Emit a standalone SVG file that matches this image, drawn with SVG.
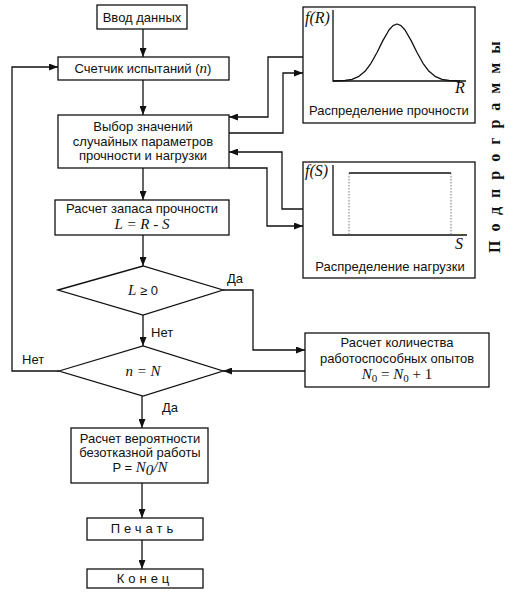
<svg xmlns="http://www.w3.org/2000/svg" width="519" height="595" viewBox="0 0 519 595">
<style>
.box{fill:#fff;stroke:#111;stroke-width:1.3}
.ln{fill:none;stroke:#111;stroke-width:1.3}
.t{font-family:"Liberation Sans",Arial,sans-serif;font-size:13px;fill:#111;text-anchor:middle}
.lab{font-family:"Liberation Sans",Arial,sans-serif;font-size:13px;fill:#111}
.m{font-family:"Liberation Serif","Times New Roman",serif;font-style:italic;font-size:15px}
.r{font-family:"Liberation Serif","Times New Roman",serif;font-style:normal;font-size:15px}
.f{font-family:"Liberation Serif","Times New Roman",serif;font-style:italic;font-size:16px;fill:#111}
</style>
<defs>
<marker id="ar" markerWidth="9" markerHeight="7" refX="9" refY="3.5" orient="auto" markerUnits="userSpaceOnUse">
<path d="M0,0 L9,3.5 L0,7 Z" fill="#111"/>
</marker>
</defs>
<rect width="519" height="595" fill="#fff"/>

<g id="connectors">
<line class="ln" x1="143" y1="29" x2="143" y2="57" marker-end="url(#ar)"/>
<line class="ln" x1="143" y1="80" x2="143" y2="115" marker-end="url(#ar)"/>
<line class="ln" x1="143" y1="168" x2="143" y2="200" marker-end="url(#ar)"/>
<line class="ln" x1="143" y1="235" x2="143" y2="266" marker-end="url(#ar)"/>
<line class="ln" x1="143" y1="315" x2="143" y2="346" marker-end="url(#ar)"/>
<line class="ln" x1="142" y1="396" x2="142" y2="428" marker-end="url(#ar)"/>
<line class="ln" x1="142" y1="483" x2="142" y2="518" marker-end="url(#ar)"/>
<line class="ln" x1="142" y1="540" x2="142" y2="569" marker-end="url(#ar)"/>
<polyline class="ln" points="59,371 12,371 12,67 58,67" marker-end="url(#ar)"/>
<polyline class="ln" points="303,57 268,57 268,117 229,117" marker-end="url(#ar)"/>
<polyline class="ln" points="229,133 283,133 283,73 303,73" marker-end="url(#ar)"/>
<polyline class="ln" points="303,209 282,209 282,152 229,152" marker-end="url(#ar)"/>
<polyline class="ln" points="229,168 267,168 267,226 303,226" marker-end="url(#ar)"/>
<polyline class="ln" points="223,290 253,290 253,350 305,350" marker-end="url(#ar)"/>
<line class="ln" x1="305" y1="371" x2="223" y2="371" marker-end="url(#ar)"/>
<text class="lab" x="227" y="283">Да</text>
<text class="lab" x="151" y="337">Нет</text>
<text class="lab" x="22" y="364">Нет</text>
<text class="lab" x="162" y="412">Да</text>
</g>

<g id="input">
<rect class="box" x="97" y="5" width="90" height="24"/>
<text class="t" x="142" y="22">Ввод данных</text>
</g>
<g id="counter">
<rect class="box" x="58" y="57" width="171" height="23"/>
<text class="t" x="143" y="73">Счетчик испытаний (<tspan class="m" font-size="14">n</tspan>)</text>
</g>
<g id="select">
<rect class="box" x="58" y="115" width="171" height="53"/>
<text class="t" x="143" y="131">Выбор значений</text>
<text class="t" x="143" y="146">случайных параметров</text>
<text class="t" x="143" y="160">прочности и нагрузки</text>
</g>
<g id="margin">
<rect class="box" x="55" y="200" width="174" height="35"/>
<text class="t" x="142" y="213">Расчет запаса прочности</text>
<text class="t m" x="142" y="229">L = R - S</text>
</g>
<g id="check">
<polygon class="box" points="58,290 143,266 223,290 143,315"/>
<text class="t" x="143" y="295" font-size="14"><tspan class="m">L</tspan> ≥ 0</text>
</g>
<g id="loopcheck">
<polygon class="box" points="59,371 143,346 223,371 143,396"/>
<text class="t m" x="143" y="376">n = N</text>
</g>
<g id="count">
<rect class="box" x="305" y="333" width="184" height="54"/>
<text class="t" x="397" y="347">Расчет количества</text>
<text class="t" x="397" y="363">работоспособных опытов</text>
<text class="t r" x="397" y="379"><tspan class="m">N</tspan><tspan font-size="11" dy="3">0</tspan><tspan dy="-3"> = </tspan><tspan class="m">N</tspan><tspan font-size="11" dy="3">0</tspan><tspan dy="-3"> + 1</tspan></text>
</g>
<g id="prob">
<rect class="box" x="71" y="428" width="137" height="55"/>
<text class="t" x="140" y="443">Расчет вероятности</text>
<text class="t" x="140" y="457">безотказной работы</text>
<text class="t" x="140" y="472">P = <tspan class="m">N</tspan><tspan class="m" font-size="11" dy="3">0</tspan><tspan class="m" dy="-3">/N</tspan></text>
</g>
<g id="print">
<rect class="box" x="87" y="518" width="116" height="22"/>
<text class="t" x="144" y="533" letter-spacing="4">Печать</text>
</g>
<g id="end">
<rect class="box" x="87" y="569" width="116" height="19"/>
<text class="t" x="145" y="583" letter-spacing="4">Конец</text>
</g>

<g id="strength-dist">
<rect class="box" x="303" y="7" width="172" height="116"/>
<text class="f" x="305" y="23">f(R)</text>
<polyline class="ln" points="333,10 333,81 466,81"/>
<polyline class="ln" stroke-linejoin="round" points="333,81 345,80.5 352,79.3 359,76.3 365,71.3 371,63.3 377,52.5 383,40.4 389,30 393,25.6 397,24 401,25.6 405,30 411,40.4 417,52.5 423,63.3 429,71.3 435,76.3 442,79.3 449,80.5 460,81"/>
<text class="f" x="455" y="93">R</text>
<text class="t" x="389" y="115">Распределение прочности</text>
</g>
<g id="load-dist">
<rect class="box" x="303" y="162" width="172" height="116"/>
<text class="f" x="305" y="176">f(S)</text>
<polyline class="ln" points="333,165 333,235 467,235"/>
<line class="ln" x1="349" y1="173" x2="451" y2="173"/>
<line x1="349" y1="173" x2="349" y2="235" stroke="#555" stroke-width="0.8" stroke-dasharray="1.5,1.5"/>
<line x1="451" y1="173" x2="451" y2="235" stroke="#555" stroke-width="0.8" stroke-dasharray="1.5,1.5"/>
<text class="f" x="455" y="249">S</text>
<text class="t" x="390" y="271">Распределение нагрузки</text>
</g>
<g id="subprograms">
<text transform="translate(500,253) rotate(-90)" x="0" y="0" font-family="'Liberation Serif','Times New Roman',serif" font-weight="bold" font-size="16" letter-spacing="9" fill="#111">Подпрограммы</text>
</g>
</svg>
